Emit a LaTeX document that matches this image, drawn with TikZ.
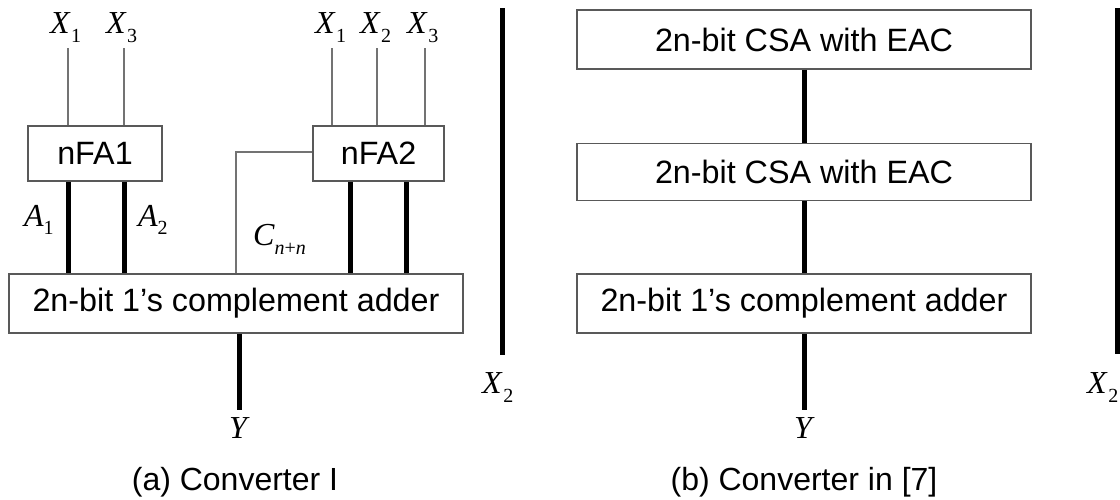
\documentclass[tikz,border=0pt]{standalone}
\usepackage{fontspec}
\setmainfont{Liberation Sans}
\newfontfamily\serifit{Liberation Serif}
\newcommand\lbfont{\serifit\itshape\fontsize{32}{32}\selectfont}
\newcommand\subfnt{\serifit\fontsize{20}{20}\selectfont}
\newcommand\lab[2]{{\lbfont #1}\hspace{1.5pt}\raisebox{-9pt}{\subfnt #2}}
\begin{document}
\begin{tikzpicture}[x=1pt,y=-1pt,
  box/.style={draw=black!65,line width=1.5pt,inner sep=0pt,font=\fontsize{32.3}{32.3}\selectfont},
  thinline/.style={draw=black!55,line width=1.5pt},
  thickline/.style={draw=black,line width=5pt},
  lbl/.style={inner sep=0pt,anchor=base west},
  captext/.style={inner sep=0pt,anchor=base,font=\fontsize{32}{32}\selectfont}]
\useasboundingbox (0,0) rectangle (1120,499);
% ---- (a)
\node[box,minimum width=134pt,minimum height=55pt] (nfa1) at (95,153.5) {nFA1};
\node[box,minimum width=131pt,minimum height=55pt] (nfa2) at (378.5,153.5) {nFA2};
\node[box,minimum width=454pt,minimum height=59pt] (add1) at (236,303.5) {2n-bit 1’s complement adder};
\node[lbl] (lx1) at (50,33) {\lab{X}{1}};
\node[lbl] (lx3) at (106,33) {\lab{X}{3}};
\node[lbl] (rx1) at (315,33) {\lab{X}{1}};
\node[lbl] (rx2) at (360,33) {\lab{X}{2}};
\node[lbl] (rx3) at (407,33) {\lab{X}{3}};
\coordinate (i1) at (68,48);
\coordinate (i3) at (124,48);
\coordinate (j1) at (332,48);
\coordinate (j2) at (377,48);
\coordinate (j3) at (425,48);
\draw[thinline] (i1) -- (i1 |- nfa1.north);
\draw[thinline] (i3) -- (i3 |- nfa1.north);
\draw[thinline] (j1) -- (j1 |- nfa2.north);
\draw[thinline] (j2) -- (j2 |- nfa2.north);
\draw[thinline] (j3) -- (j3 |- nfa2.north);
\draw[thickline] (i1 |- nfa1.south) -- (i1 |- add1.north);
\draw[thickline] (i3 |- nfa1.south) -- (i3 |- add1.north);
\coordinate (k1) at (350,0);
\coordinate (k2) at (406,0);
\draw[thickline] (k1 |- nfa2.south) -- (k1 |- add1.north);
\draw[thickline] (k2 |- nfa2.south) -- (k2 |- add1.north);
\coordinate (cc) at (236,152);
\draw[thinline] (nfa2.west |- cc) -- (cc) -- (cc |- add1.north);
\node[lbl] (la1) at (24,226) {{\lbfont A}\raisebox{-8pt}{\subfnt 1}};
\node[lbl] (la2) at (138,226) {{\lbfont A}\raisebox{-8pt}{\subfnt 2}};
\node[lbl] (lc) at (253,245) {{\lbfont C}\raisebox{-9pt}{\subfnt\itshape n\upshape+\itshape n}};
\coordinate (ya) at (239,410);
\draw[thickline] (ya |- add1.south) -- (ya);
\node[inner sep=0pt,anchor=base] (lya) at (238,438) {\lbfont Y};
\coordinate (xa) at (502,8);
\coordinate (xb) at (502,355);
\draw[thickline] (xa) -- (xb);
\node[lbl] (lx2a) at (482,393) {\lab{X}{2}};
\node[captext] (capa) at (235,490) {(a) Converter I};
% ---- (b)
\node[box,minimum width=454pt,minimum height=59pt] (csa1) at (804,39.5) {2n-bit CSA with EAC};
\node[box,minimum width=454pt,minimum height=57pt] (csa2) at (804,172) {2n-bit CSA with EAC};
\node[box,minimum width=454pt,minimum height=59pt] (add2) at (804,303.5) {2n-bit 1’s complement adder};
\draw[thickline] (csa1.south) -- (csa2.north);
\draw[thickline] (csa2.south) -- (add2.north);
\coordinate (yb) at (804,410);
\draw[thickline] (add2.south) -- (yb);
\node[inner sep=0pt,anchor=base] (lyb) at (803,438) {\lbfont Y};
\coordinate (xc) at (1117,8);
\coordinate (xd) at (1117,354);
\draw[thickline] (xc) -- (xd);
\node[lbl] (lx2b) at (1087,393) {\lab{X}{2}};
\node[captext] (capb) at (804,490) {(b) Converter in [7]};
\end{tikzpicture}
\end{document}
